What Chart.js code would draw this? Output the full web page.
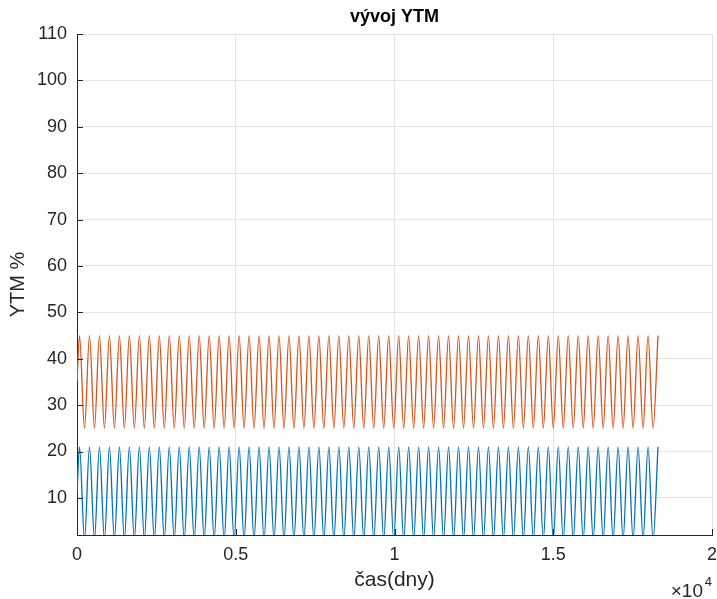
<!DOCTYPE html>
<html>
<head>
<meta charset="utf-8">
<title>vývoj YTM</title>
<script src="https://cdn.jsdelivr.net/npm/chart.js@4/dist/chart.umd.min.js"></script>
<style>
  html, body { margin: 0; padding: 0; background: #fff; }
  canvas { display: block; }
</style>
</head>
<body>
<canvas id="ytm" width="717" height="599"></canvas>
<script>
// days at which the curves turn (start, then alternating peak / trough)
const dayPts = [
  0, 79, 236, 393, 550, 707, 864, 1021, 1178, 1335,
  1492, 1649, 1806, 1964, 2121, 2278, 2435, 2592, 2749, 2906,
  3063, 3220, 3377, 3534, 3691, 3848, 4006, 4163, 4320, 4477,
  4634, 4791, 4948, 5105, 5262, 5419, 5576, 5733, 5891, 6048,
  6205, 6362, 6519, 6676, 6833, 6990, 7147, 7304, 7461, 7618,
  7775, 7933, 8090, 8247, 8404, 8561, 8718, 8875, 9032, 9189,
  9346, 9503, 9660, 9818, 9975, 10132, 10289, 10446, 10603, 10760,
  10917, 11074, 11231, 11388, 11545, 11702, 11860, 12017, 12174, 12331,
  12488, 12645, 12802, 12959, 13116, 13273, 13430, 13587, 13745, 13902,
  14059, 14216, 14373, 14530, 14687, 14844, 15001, 15158, 15315, 15472,
  15629, 15787, 15944, 16101, 16258, 16415, 16572, 16729, 16886, 17043,
  17200, 17357, 17514, 17672, 17829, 17986, 18143, 18300
];

// YTM % at those days
const ytmBlue = [
  11, 21, 1, 21, 1, 21, 1, 21, 1, 21,
  1, 21, 1, 21, 1, 21, 1, 21, 1, 21,
  1, 21, 1, 21, 1, 21, 1, 21, 1, 21,
  1, 21, 1, 21, 1, 21, 1, 21, 1, 21,
  1, 21, 1, 21, 1, 21, 1, 21, 1, 21,
  1, 21, 1, 21, 1, 21, 1, 21, 1, 21,
  1, 21, 1, 21, 1, 21, 1, 21, 1, 21,
  1, 21, 1, 21, 1, 21, 1, 21, 1, 21,
  1, 21, 1, 21, 1, 21, 1, 21, 1, 21,
  1, 21, 1, 21, 1, 21, 1, 21, 1, 21,
  1, 21, 1, 21, 1, 21, 1, 21, 1, 21,
  1, 21, 1, 21, 1, 21, 1, 21
];
const ytmOrange = [
  35, 45, 25, 45, 25, 45, 25, 45, 25, 45,
  25, 45, 25, 45, 25, 45, 25, 45, 25, 45,
  25, 45, 25, 45, 25, 45, 25, 45, 25, 45,
  25, 45, 25, 45, 25, 45, 25, 45, 25, 45,
  25, 45, 25, 45, 25, 45, 25, 45, 25, 45,
  25, 45, 25, 45, 25, 45, 25, 45, 25, 45,
  25, 45, 25, 45, 25, 45, 25, 45, 25, 45,
  25, 45, 25, 45, 25, 45, 25, 45, 25, 45,
  25, 45, 25, 45, 25, 45, 25, 45, 25, 45,
  25, 45, 25, 45, 25, 45, 25, 45, 25, 45,
  25, 45, 25, 45, 25, 45, 25, 45, 25, 45,
  25, 45, 25, 45, 25, 45, 25, 45
];

const yTicks = [10, 20, 30, 40, 50, 60, 70, 80, 90, 100, 110];
const xTicks = [0, 5000, 10000, 15000, 20000];

const FONT = '"Liberation Sans", Arial, Helvetica, sans-serif';
const AXIS = '#262626';
const GRID = '#e4e4e4';

// MATLAB-style title over the axes, ticks pointing inward, and the x10^4 multiplier
const matlabAxes = {
  id: 'matlabAxes',
  afterDraw(chart) {
    const { ctx, chartArea: a, scales: { x, y } } = chart;
    ctx.save();
    ctx.strokeStyle = AXIS;
    ctx.lineWidth = 1;
    ctx.beginPath();
    x.ticks.forEach(t => {
      const px = Math.round(x.getPixelForValue(t.value)) + 0.5;
      ctx.moveTo(px, a.bottom);
      ctx.lineTo(px, a.bottom - 6);
    });
    y.ticks.forEach(t => {
      const py = Math.round(y.getPixelForValue(t.value)) + 0.5;
      ctx.moveTo(a.left, py);
      ctx.lineTo(a.left + 6, py);
    });
    ctx.stroke();

    ctx.fillStyle = '#000';
    ctx.textAlign = 'center';
    ctx.textBaseline = 'middle';
    ctx.font = 'bold 18px ' + FONT;
    ctx.fillText('vývoj YTM', (a.left + a.right) / 2, 17);

    ctx.fillStyle = AXIS;
    ctx.textBaseline = 'alphabetic';
    ctx.textAlign = 'right';
    ctx.font = '13px ' + FONT;
    ctx.fillText('4', a.right, 586);
    ctx.font = '19px ' + FONT;
    ctx.fillText('×10', a.right - 9, 597);
    ctx.restore();
  }
};

new Chart(document.getElementById('ytm').getContext('2d'), {
  type: 'line',
  data: {
    datasets: [
      {
        label: 'YTM 1',
        data: dayPts.map((d, i) => ({ x: d, y: ytmBlue[i] })),
        borderColor: '#0072BD',
        borderWidth: 1.3,
        pointRadius: 0,
        cubicInterpolationMode: 'monotone',
        clip: 0,
      },
      {
        label: 'YTM 2',
        data: dayPts.map((d, i) => ({ x: d, y: ytmOrange[i] })),
        borderColor: '#D95319',
        borderWidth: 1.3,
        pointRadius: 0,
        cubicInterpolationMode: 'monotone',
        clip: 0,
      },
    ],
  },
  options: {
    responsive: false,
    animation: false,
    layout: { padding: { left: 0, right: 5, top: 34, bottom: 0 } },
    plugins: {
      legend: { display: false },
      tooltip: { enabled: false },
    },
    scales: {
      x: {
        type: 'linear',
        min: 0,
        max: 20000,
        afterBuildTicks: s => { s.ticks = xTicks.map(v => ({ value: v })); },
        afterFit: s => { s.height = 64; s.paddingLeft = 0; s.paddingRight = 0; },
        grid: { color: GRID, drawTicks: false },
        border: { display: true, color: AXIS, width: 1 },
        ticks: {
          color: AXIS,
          padding: 9,
          maxRotation: 0,
          font: { family: FONT, size: 18 },
          callback: v => `${v / 10000}`,
        },
        title: {
          display: true,
          text: 'čas(dny)',
          color: AXIS,
          font: { family: FONT, size: 21, lineHeight: 1.2 },
          padding: { top: 0, bottom: 6 },
        },
      },
      y: {
        min: 2,
        max: 110,
        afterBuildTicks: s => { s.ticks = yTicks.map(v => ({ value: v })); },
        afterFit: s => { s.width = 77; s.paddingTop = 0; s.paddingBottom = 0; },
        grid: { color: GRID, drawTicks: false },
        border: { display: true, color: AXIS, width: 1 },
        ticks: {
          color: AXIS,
          padding: 10,
          font: { family: FONT, size: 18 },
        },
        title: {
          display: true,
          text: 'YTM %',
          color: AXIS,
          font: { family: FONT, size: 20, lineHeight: 1.2 },
          padding: { top: 6, bottom: 0 },
        },
      },
    },
  },
  plugins: [matlabAxes],
});
</script>
</body>
</html>
